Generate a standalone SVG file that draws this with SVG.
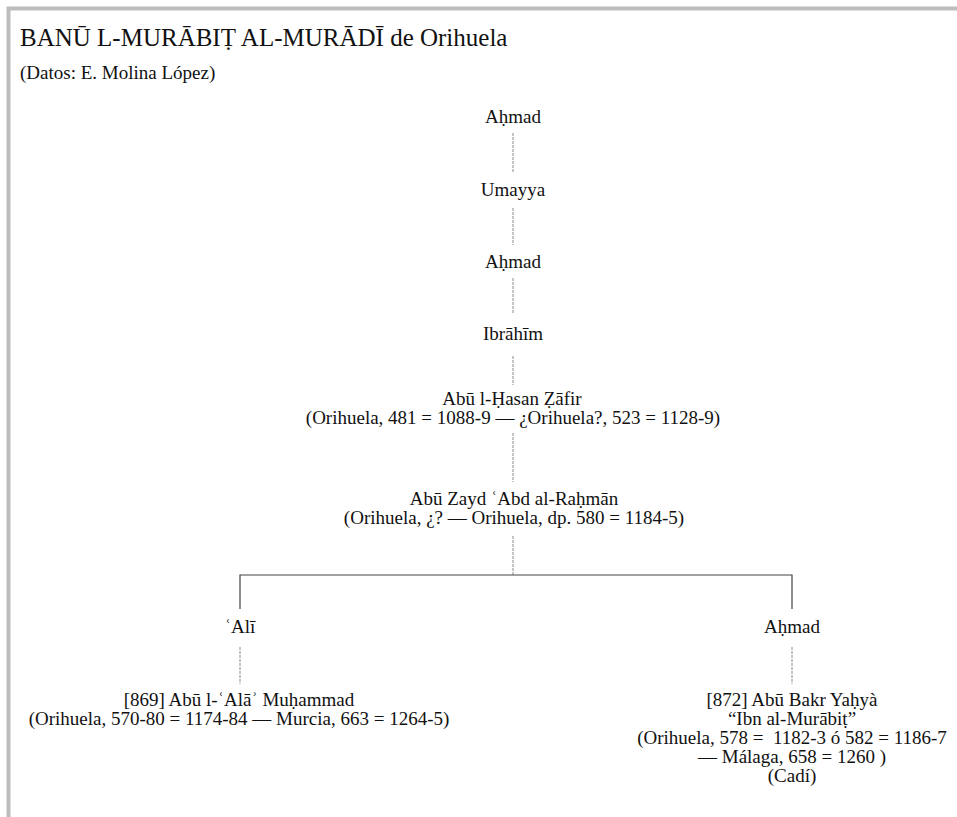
<svg xmlns="http://www.w3.org/2000/svg" width="957" height="817" viewBox="0 0 957 817">
<style>
text{font-family:"Liberation Serif","Times New Roman",serif;fill:#111;}
.n{font-size:19px;text-anchor:middle;}
.t{font-size:25px;}
.s{font-size:19px;}
.v{stroke:#8a8a8a;stroke-width:1;stroke-dasharray:3 1;fill:none;}
.h{stroke:#444;stroke-width:1.2;fill:none;}
</style>
<rect width="957" height="817" fill="#fff"/>
<path d="M8.5 817V8.5H957" fill="none" stroke="#bdbdbd" stroke-width="4"/>
<g id="title">
<text class="t" x="20" y="46">BANŪ L-MURĀBIṬ AL-MURĀDĪ de Orihuela</text>
<text class="s" x="20" y="79">(Datos: E. Molina López)</text>
</g>
<g id="connectors">
<path class="v" d="M513 133V172"/>
<path class="v" d="M513 208V245"/>
<path class="v" d="M513 278V314"/>
<path class="v" d="M513 356V385"/>
<path class="v" d="M513 433V482"/>
<path class="v" d="M513 536V575"/>
<path class="h" d="M240 609V575H792V609"/>
<path class="v" d="M240 647V684"/>
<path class="v" d="M792 647V684"/>
</g>
<g id="n1"><text class="n" x="513" y="123">Aḥmad</text></g>
<g id="n2"><text class="n" x="513" y="196">Umayya</text></g>
<g id="n3"><text class="n" x="513" y="268">Aḥmad</text></g>
<g id="n4"><text class="n" x="513" y="340">Ibrāhīm</text></g>
<g id="n5"><text class="n" x="512" y="405">Abū l-Ḥasan Ẓāfir</text><text class="n" x="513" y="424">(Orihuela, 481 = 1088-9 — ¿Orihuela?, 523 = 1128-9)</text></g>
<g id="n6"><text class="n" x="514" y="505">Abū Zayd  ʿAbd al-Raḥmān</text><text class="n" x="514" y="524">(Orihuela, ¿? — Orihuela, dp. 580 = 1184-5)</text></g>
<g id="n7"><text class="n" x="240" y="633">ʿAlī</text></g>
<g id="n8"><text class="n" x="792" y="633">Aḥmad</text></g>
<g id="n9"><text class="n" x="239" y="706">[869] Abū l-ʿAlāʾ Muḥammad</text><text class="n" x="239" y="725">(Orihuela, 570-80 = 1174-84 — Murcia, 663 = 1264-5)</text></g>
<g id="n10"><text class="n" x="792" y="706">[872] Abū Bakr Yaḥyà</text><text class="n" x="792" y="725">“Ibn al-Murābiṭ”</text><text class="n" x="792" y="744" xml:space="preserve">(Orihuela, 578 =  1182-3 ó 582 = 1186-7</text><text class="n" x="792" y="763">— Málaga, 658 = 1260 )</text><text class="n" x="792" y="782">(Cadí)</text></g>
</svg>
